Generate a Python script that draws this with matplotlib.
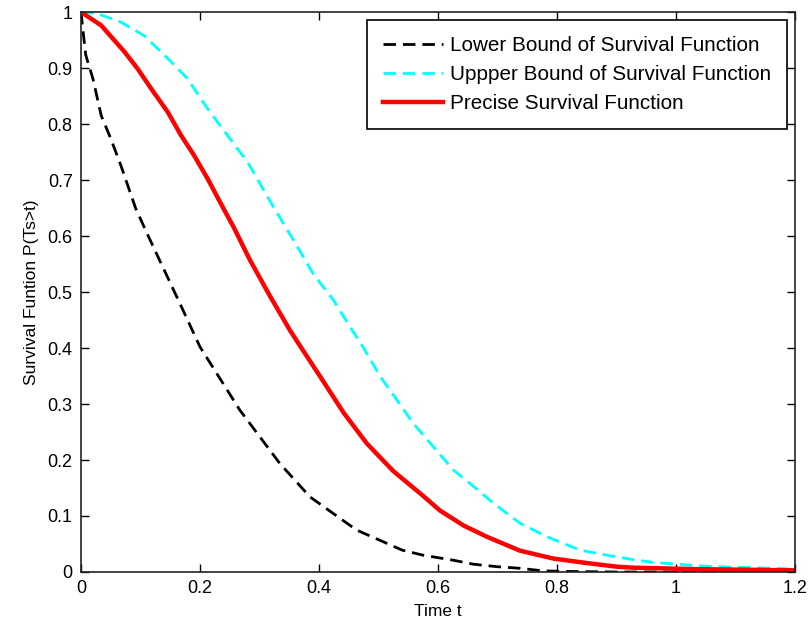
import matplotlib
matplotlib.use("Agg")
import matplotlib.pyplot as plt

plt.rcParams['font.family'] = ['Liberation Sans', 'DejaVu Sans']

# Lower bound of survival function
t_lower = [0, 0.003, 0.008, 0.020, 0.034, 0.050, 0.067, 0.092, 0.113, 0.166, 0.2,
           0.267, 0.334, 0.385, 0.463, 0.540, 0.575, 0.626, 0.659, 0.699, 0.738,
           0.777, 0.82, 0.9, 1.2]
s_lower = [1, 0.970, 0.923, 0.881, 0.815, 0.774, 0.726, 0.649, 0.6, 0.480, 0.402,
           0.289, 0.194, 0.134, 0.075, 0.039, 0.030, 0.021, 0.014, 0.0095, 0.0066,
           0.002, 0.001, 0, 0]

# Upper bound of survival function
t_upper = [0, 0.028, 0.067, 0.106, 0.146, 0.179, 0.213, 0.246, 0.280, 0.325, 0.357,
           0.390, 0.424, 0.452, 0.474, 0.503, 0.531, 0.558, 0.592, 0.626, 0.654,
           0.693, 0.738, 0.783, 0.839, 0.884, 0.923, 0.962, 1.001, 1.04, 1.08,
           1.124, 1.2]
s_upper = [1, 0.997, 0.982, 0.958, 0.917, 0.881, 0.827, 0.780, 0.732, 0.649, 0.593,
           0.533, 0.486, 0.438, 0.402, 0.349, 0.307, 0.266, 0.224, 0.182, 0.158,
           0.123, 0.087, 0.063, 0.039, 0.030, 0.023, 0.017, 0.014, 0.011, 0.009,
           0.008, 0.005]

# Precise survival function
t_precise = [0, 0.034, 0.073, 0.095, 0.118, 0.146, 0.168, 0.190, 0.213, 0.241, 0.256,
             0.284, 0.318, 0.351, 0.368, 0.402, 0.441, 0.480, 0.525, 0.575, 0.603,
             0.643, 0.682, 0.738, 0.794, 0.850, 0.900, 0.928, 1.04, 1.2]
s_precise = [1, 0.976, 0.929, 0.899, 0.863, 0.821, 0.780, 0.744, 0.702, 0.646, 0.617,
             0.557, 0.492, 0.432, 0.404, 0.349, 0.285, 0.230, 0.180, 0.136, 0.110,
             0.083, 0.063, 0.038, 0.024, 0.016, 0.0095, 0.0077, 0.005, 0.003]

labels = ["Lower Bound of Survival Function",
          "Uppper Bound of Survival Function",
          "Precise Survival Function"]

x_ticks = [0, 0.2, 0.4, 0.6, 0.8, 1, 1.2]
x_ticklabels = ["0", "0.2", "0.4", "0.6", "0.8", "1", "1.2"]
y_ticks = [0, 0.1, 0.2, 0.3, 0.4, 0.5, 0.6, 0.7, 0.8, 0.9, 1]
y_ticklabels = ["0", "0.1", "0.2", "0.3", "0.4", "0.5", "0.6", "0.7", "0.8", "0.9", "1"]

fig = plt.figure(figsize=(8.08, 6.32), dpi=100)
ax = fig.add_axes([81/808, 1-572/632, (795-81)/808, (572-12)/632])

ax.plot(t_lower, s_lower, color='black', lw=2.0, dashes=(4.5, 2.5), label=labels[0])
ax.plot(t_upper, s_upper, color='#00FFFF', lw=2.0, dashes=(4.5, 2.5), label=labels[1])
ax.plot(t_precise, s_precise, color='#FF0000', lw=3.2, label=labels[2])

ax.set_xlim(0, 1.2)
ax.set_ylim(0, 1)
ax.set_xticks(x_ticks)
ax.set_xticklabels(x_ticklabels)
ax.set_yticks(y_ticks)
ax.set_yticklabels(y_ticklabels)
ax.tick_params(direction='in', top=True, right=True, length=6, width=1,
               labelsize=13, pad=6)
for s in ax.spines.values():
    s.set_linewidth(1.2)
    s.set_color('#222222')

ax.set_xlabel("Time t", fontsize=12.5, labelpad=5)
ax.set_ylabel("Survival Funtion P(Ts>t)", fontsize=12.5, labelpad=6)

leg = ax.legend(loc='upper right', fontsize=14.9, frameon=True, fancybox=False,
                edgecolor='black', framealpha=1, handlelength=2.9,
                borderaxespad=0.4, labelspacing=0.5, handletextpad=0.35,
                borderpad=0.75)
leg.get_frame().set_linewidth(1.2)

fig.savefig("out.png", dpi=100)
